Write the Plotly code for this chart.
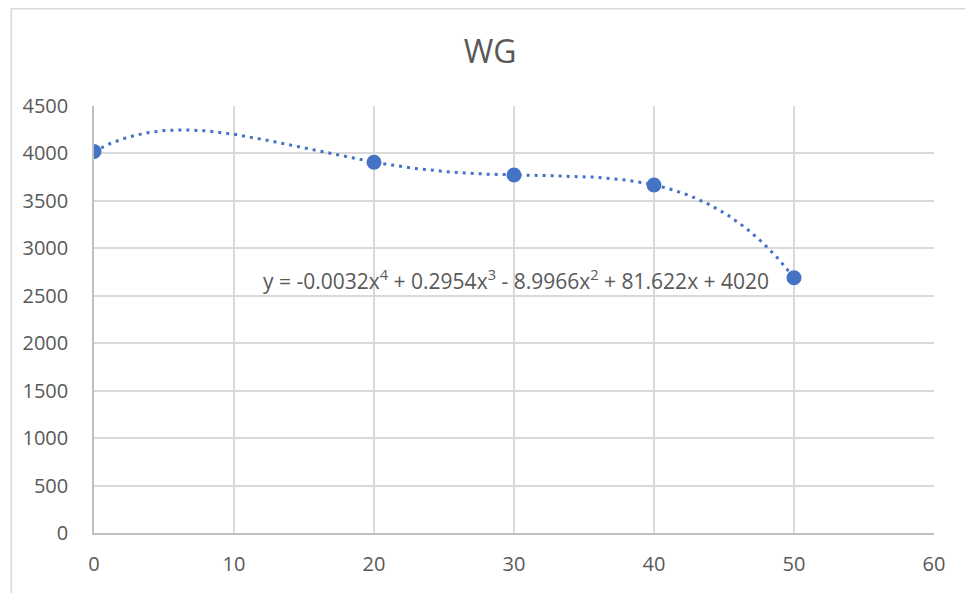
import numpy as np
import plotly.graph_objects as go

# Data
x_vals = [0, 20, 30, 40, 50]
y_vals = [4020, 3907, 3773, 3668, 2690]
title_text = "WG"
equation_text = "y = -0.0032x<sup>4</sup> + 0.2954x<sup>3</sup> - 8.9966x<sup>2</sup> + 81.622x + 4020"
x_ticks = [0, 10, 20, 30, 40, 50, 60]
y_ticks = [0, 500, 1000, 1500, 2000, 2500, 3000, 3500, 4000, 4500]

# Polynomial (order 4) trendline fitted to the data, as Excel does
coef = np.polyfit(x_vals, y_vals, 4)
xt = np.linspace(min(x_vals), max(x_vals), 300)
yt = np.polyval(coef, xt)

blue = "#4472C4"
grey = "#595959"
font_family = "'Open Sans', 'Noto Sans', sans-serif"

fig = go.Figure()
fig.add_trace(go.Scatter(x=xt, y=yt, mode="lines",
                         line=dict(color=blue, width=3, dash="3px,5px"),
                         hoverinfo="skip", showlegend=False))
fig.add_trace(go.Scatter(x=x_vals, y=y_vals, mode="markers",
                         marker=dict(color=blue, size=15),
                         showlegend=False))

fig.add_annotation(x=30.16, y=2676, xref="x", yref="y", text=equation_text,
                   showarrow=False, xanchor="center", yanchor="middle",
                   font=dict(family=font_family, size=21, color=grey))

fig.add_shape(type="rect", xref="paper", yref="paper",
              x0=-0.0985, x1=1.2, y0=-0.3, y1=1.228,
              line=dict(color="#D9D9D9", width=1.5), layer="below")

fig.update_layout(
    width=965, height=593,
    margin=dict(l=94, r=31, t=106, b=60),
    paper_bgcolor="white", plot_bgcolor="white",
    title=dict(text=title_text, x=0.508, xanchor="center", y=0.912, yanchor="middle",
               font=dict(family=font_family, size=32, color=grey)),
    font=dict(family=font_family, size=20, color=grey),
    xaxis=dict(range=[0, 60], tickvals=x_ticks, showgrid=True, gridcolor="#D9D9D9",
               gridwidth=1.5, zeroline=False, showline=True, linecolor="#BFBFBF",
               linewidth=1.5, ticks="", ticklabelstandoff=12,
               tickfont=dict(size=20, color=grey)),
    yaxis=dict(range=[0, 4500], tickvals=y_ticks, showgrid=True, gridcolor="#D9D9D9",
               gridwidth=1.5, zeroline=False, showline=True, linecolor="#BFBFBF",
               linewidth=1.5, ticks="", ticklabelstandoff=20,
               tickfont=dict(size=20, color=grey)),
)

fig.write_html("out.html")
